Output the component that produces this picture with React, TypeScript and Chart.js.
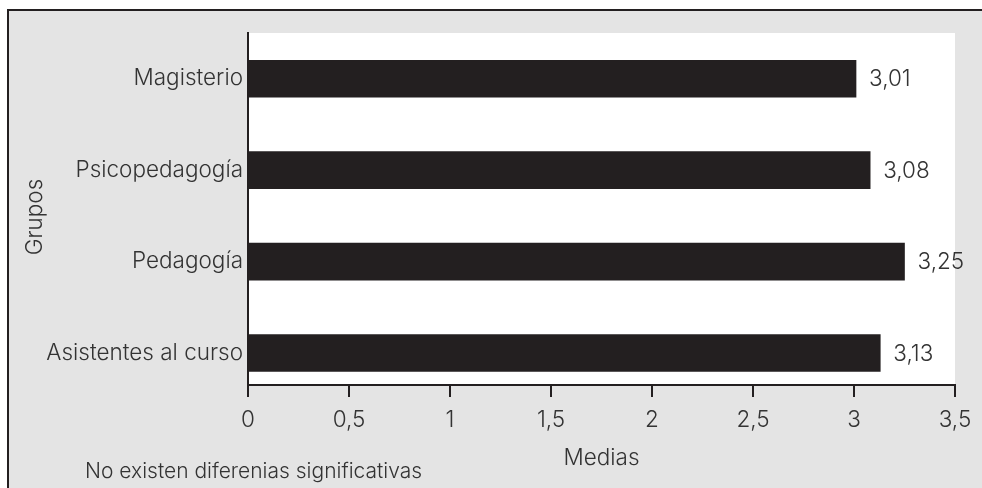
import React, { useEffect, useRef } from "react";
import { Chart, registerables } from "chart.js";

Chart.register(...registerables);

// Groups compared and their mean scores
const CATEGORIES = ["Magisterio", "Psicopedagogía", "Pedagogía", "Asistentes al curso"];
const MEANS = [3.01, 3.08, 3.25, 3.13];
const X_TICKS = [0, 0.5, 1, 1.5, 2, 2.5, 3, 3.5];
const X_TITLE = "Medias";
const Y_TITLE = "Grupos";
const NOTE = "No existen diferenias significativas";

const INK = "#231f20";
const TEXT = "#333333";
const PANEL = "#e4e4e4";
const FONT = "Inter, 'Liberation Sans', sans-serif";
const FONT_WEIGHT = "300";
const FONT_SIZE = 22.5;
const NOTE_SIZE = 21;

const fmt = (v: number, digits?: number) =>
  (digits === undefined ? String(v) : v.toFixed(digits)).replace(".", ",");

const decor = {
  id: "decor",
  beforeDraw(chart: any) {
    const { ctx, chartArea, width, height } = chart;
    ctx.save();
    ctx.fillStyle = "#ffffff";
    ctx.fillRect(0, 0, width, height);
    // grey panel with a dark frame on top and left
    ctx.fillStyle = PANEL;
    ctx.fillRect(7, 9, width - 7, height - 9);
    ctx.strokeStyle = INK;
    ctx.lineWidth = 2;
    ctx.beginPath();
    ctx.moveTo(width, 10);
    ctx.lineTo(8, 10);
    ctx.lineTo(8, height);
    ctx.stroke();
    // white plotting area
    ctx.fillStyle = "#ffffff";
    ctx.fillRect(chartArea.left, chartArea.top, chartArea.right - chartArea.left, chartArea.bottom - chartArea.top);
    ctx.restore();
  },
  afterDraw(chart: any) {
    const { ctx, chartArea } = chart;
    ctx.save();
    ctx.fillStyle = TEXT;
    ctx.font = `${FONT_WEIGHT} ${FONT_SIZE}px ${FONT}`;
    // value labels at the end of each bar
    const meta = chart.getDatasetMeta(0);
    ctx.textAlign = "left";
    ctx.textBaseline = "middle";
    meta.data.forEach((bar: any, i: number) => {
      ctx.fillText(fmt(MEANS[i], 2), bar.x + 13, bar.y + 1);
    });
    // axis titles
    ctx.textAlign = "center";
    ctx.fillText(X_TITLE, (chartArea.left + chartArea.right) / 2, 458);
    ctx.save();
    ctx.translate(35, 217);
    ctx.rotate(-Math.PI / 2);
    ctx.fillText(Y_TITLE, 0, 0);
    ctx.restore();
    // footnote
    ctx.font = `${FONT_WEIGHT} ${NOTE_SIZE}px ${FONT}`;
    ctx.textAlign = "left";
    ctx.fillText(NOTE, 85, 472);
    ctx.restore();
  },
};

export default function App() {
  const canvasRef = useRef<HTMLCanvasElement | null>(null);

  useEffect(() => {
    const canvas = canvasRef.current;
    if (!canvas) return;
    const chart = new Chart(canvas, {
      type: "bar",
      data: {
        datasets: [
          {
            data: MEANS.map((v, i) => ({ x: v, y: i })),
            backgroundColor: INK,
            borderWidth: 0,
            barThickness: 37,
          },
        ],
      },
      options: {
        indexAxis: "y",
        animation: false,
        responsive: false,
        devicePixelRatio: 1,
        layout: { padding: { top: 33, right: 27, left: 0, bottom: 0 } },
        plugins: { legend: { display: false }, tooltip: { enabled: false } },
        scales: {
          x: {
            type: "linear",
            min: 0,
            max: 3.5,
            afterBuildTicks: (scale: any) => {
              scale.ticks = X_TICKS.map((v) => ({ value: v }));
            },
            afterFit: (scale: any) => {
              scale.height = 103;
            },
            grid: {
              display: true,
              drawOnChartArea: false,
              drawTicks: true,
              tickLength: 12,
              color: INK,
              lineWidth: 2,
            },
            border: { display: true, color: INK, width: 2 },
            ticks: {
              callback: (v: any) => fmt(Number(v)),
              color: TEXT,
              padding: 10,
              maxRotation: 0,
              font: { family: FONT, size: FONT_SIZE, weight: FONT_WEIGHT as any },
            },
          },
          y: {
            type: "linear",
            offset: false,
            min: -0.5,
            max: 3.35,
            reverse: true,
            afterBuildTicks: (scale: any) => {
              scale.ticks = CATEGORIES.map((_, i) => ({ value: i }));
            },
            afterFit: (scale: any) => {
              scale.width = 248;
            },
            grid: { display: false, drawTicks: false, offset: false },
            border: { display: true, color: INK, width: 2 },
            ticks: {
              callback: (v: any) => CATEGORIES[Number(v)] ?? "",
              color: TEXT,
              padding: 5,
              font: { family: FONT, size: FONT_SIZE, weight: FONT_WEIGHT as any },
            },
          },
        },
      },
      plugins: [decor],
    });
    return () => chart.destroy();
  }, []);

  return (
    <canvas
      ref={canvasRef}
      width={982}
      height={488}
      style={{ position: "fixed", left: 0, top: 0, width: 982, height: 488, display: "block" }}
    />
  );
}
